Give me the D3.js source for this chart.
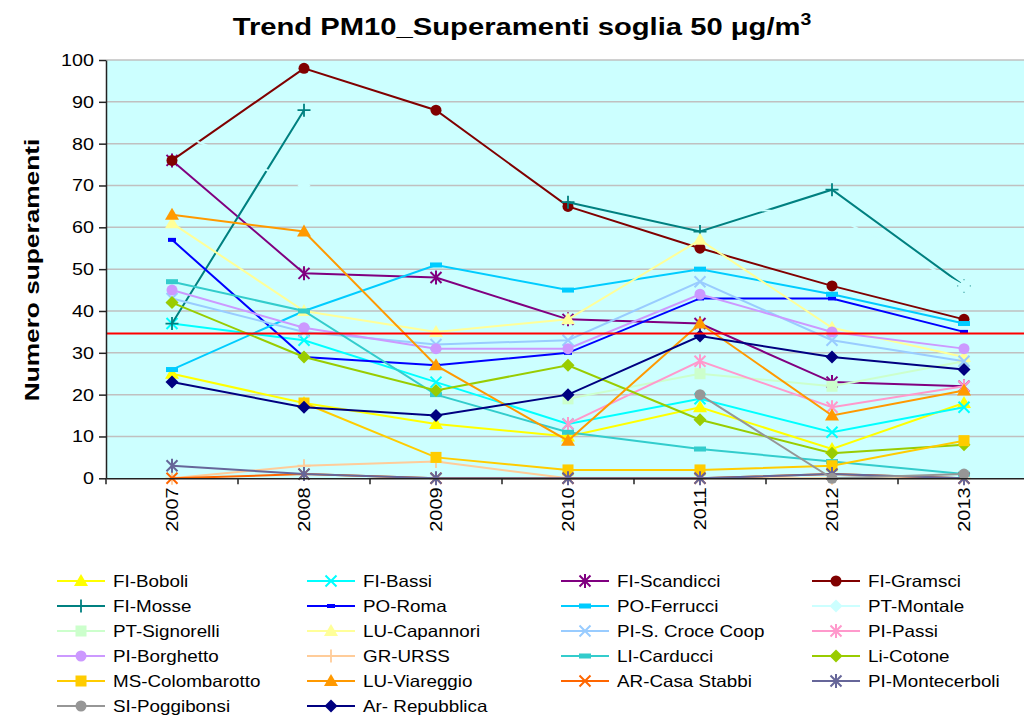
<!DOCTYPE html>
<html>
<head>
<meta charset="utf-8">
<script src="https://cdn.jsdelivr.net/npm/d3@7"></script>
<style>
  body { margin: 0; background: #fff; }
  text { font-family: "Liberation Sans", Arial, sans-serif; fill: #000; }
</style>
</head>
<body>
<svg id="chart" width="1024" height="718"></svg>
<script>
//////////////////////////////////////
// Data

const years = ['2007', '2008', '2009', '2010', '2011', '2012', '2013'];
const yTicks = [0, 10, 20, 30, 40, 50, 60, 70, 80, 90, 100];
const soglia = 34.6; // red limit line

const stations = ['FI-Boboli', 'FI-Bassi', 'FI-Scandicci', 'FI-Gramsci',
  'FI-Mosse', 'PO-Roma', 'PO-Ferrucci', 'PT-Montale',
  'PT-Signorelli', 'LU-Capannori', 'PI-S. Croce Coop', 'PI-Passi',
  'PI-Borghetto', 'GR-URSS', 'LI-Carducci', 'Li-Cotone',
  'MS-Colombarotto', 'LU-Viareggio', 'AR-Casa Stabbi', 'PI-Montecerboli',
  'SI-Poggibonsi', 'Ar- Repubblica'];

const boboli       = [25, 18, 13, 10, 17, 7, 18];
const bassi        = [37, 33, 23, 13, 19, 11, 17];
const scandicci    = [76, 49, 48, 38, 37, 23, 22];
const gramsci      = [76, 98, 88, 65, 55, 46, 38];
const mosse        = [37, 88, null, 66, 59, 69, 46];
const roma         = [57, 29, 27, 30, 43, 43, 35];
const ferrucci     = [26, 40, 51, 45, 50, 44, 37];
const montale      = [83, 70, null, null, 65, 63, 46];
const signorelli   = [null, null, null, 19, 25, 22, 28];
const capannori    = [61, 40, 35, 38, 57, 36, 29];
const santaCroce   = [43, 35, 32, 33, 47, 33, 28];
const passi        = [null, null, null, 13, 28, 17, 22];
const borghetto    = [45, 36, 31, 31, 44, 35, 31];
const urss         = [0, 3, 4, 0, 0, 0, 0];
const carducci     = [47, 40, 20, 11, 7, 4, 1];
const cotone       = [42, 29, 21, 27, 14, 6, 8];
const colombarotto = [null, 18, 5, 2, 2, 3, 9];
const viareggio    = [63, 59, 27, 9, 37, 15, 21];
const casaStabbi   = [0, 1, 0, 0, 0, 1, 0];
const montecerboli = [3, 1, 0, 0, 0, 1, 0];
const poggibonsi   = [null, null, null, null, 20, 0, 1];
const repubblica   = [23, 17, 15, 20, 34, 29, 26];

const seriesValues = [boboli, bassi, scandicci, gramsci, mosse, roma, ferrucci, montale,
  signorelli, capannori, santaCroce, passi, borghetto, urss, carducci, cotone,
  colombarotto, viareggio, casaStabbi, montecerboli, poggibonsi, repubblica];

// styles
const seriesColors = ['#ffff00', '#00ffff', '#800080', '#800000',
  '#008080', '#0000ff', '#00ccff', '#ccffff',
  '#ccffcc', '#ffff99', '#99ccff', '#ff99cc',
  '#cc99ff', '#ffcc99', '#33cccc', '#99cc00',
  '#ffcc00', '#ff9900', '#ff6600', '#666699',
  '#969696', '#000080'];
const seriesMarkers = ['triangle', 'x', 'star', 'circle',
  'plus', 'dashS', 'dash', 'diamond',
  'square', 'triangle', 'x', 'star',
  'circle', 'plus', 'dash', 'diamond',
  'square', 'triangle', 'x', 'star',
  'circle', 'diamond'];

//////////////////////////////////////
// Layout

const plot = {left: 106, right: 1030, top: 60, bottom: 478.3};

const svg = d3.select('#chart');

const x = d3.scaleBand().domain(years).range([plot.left, plot.right]);
const cx = d => x(d) + x.bandwidth() / 2;
const y = d3.scaleLinear().domain([0, 100]).range([plot.bottom, plot.top]);

// stretch text a bit, the original font renders wider than Arial
function stretch(sel, k) {
  sel.each(function() {
    const w = this.getComputedTextLength();
    this.setAttribute('textLength', w * k);
    this.setAttribute('lengthAdjust', 'spacingAndGlyphs');
  });
}

// plot background
svg.append('rect')
  .attr('x', plot.left).attr('y', plot.top)
  .attr('width', plot.right - plot.left).attr('height', plot.bottom - plot.top)
  .attr('fill', '#ccffff');

// gridlines
svg.append('g')
  .selectAll('line')
  .data(yTicks.slice(1))
  .join('line')
  .attr('x1', plot.left).attr('x2', plot.right)
  .attr('y1', d => y(d)).attr('y2', d => y(d))
  .attr('stroke', '#c0c0c0').attr('stroke-width', 1.5);

//////////////////////////////////////
// Markers

function drawMarker(g, shape, color, px, py) {
  const t = 'translate(' + px + ',' + py + ')';
  switch (shape) {
    case 'triangle':
      g.append('path').attr('d', 'M0,-7L7,5L-7,5Z').attr('transform', t).attr('fill', color);
      break;
    case 'circle':
      g.append('circle').attr('cx', px).attr('cy', py).attr('r', 5.5).attr('fill', color);
      break;
    case 'diamond':
      g.append('path').attr('d', 'M0,-6.5L6.5,0L0,6.5L-6.5,0Z').attr('transform', t).attr('fill', color);
      break;
    case 'square':
      g.append('rect').attr('x', px - 5.5).attr('y', py - 5.5).attr('width', 11).attr('height', 11).attr('fill', color);
      break;
    case 'dash':
      g.append('rect').attr('x', px - 6).attr('y', py - 2.5).attr('width', 12).attr('height', 5).attr('fill', color);
      break;
    case 'dashS':
      g.append('rect').attr('x', px - 4).attr('y', py - 2).attr('width', 8).attr('height', 4).attr('fill', color);
      break;
    case 'x':
      g.append('path').attr('d', 'M-5.5,-5.5L5.5,5.5M-5.5,5.5L5.5,-5.5').attr('transform', t)
        .attr('stroke', color).attr('stroke-width', 2).attr('fill', 'none');
      break;
    case 'star':
      g.append('path').attr('d', 'M-5.5,-5.5L5.5,5.5M-5.5,5.5L5.5,-5.5M0,-7V7').attr('transform', t)
        .attr('stroke', color).attr('stroke-width', 2).attr('fill', 'none');
      break;
    case 'plus':
      g.append('path').attr('d', 'M-6.5,0H6.5M0,-6.5V6.5').attr('transform', t)
        .attr('stroke', color).attr('stroke-width', 1.8).attr('fill', 'none');
      break;
  }
}

//////////////////////////////////////
// Series

const line = d3.line()
  .defined(d => d[1] != null)
  .x(d => cx(d[0]))
  .y(d => y(d[1]));

const seriesG = svg.append('g');
seriesValues.forEach(function(vals, i) {
  const pts = years.map((yr, j) => [yr, vals[j]]);
  const g = seriesG.append('g');
  g.append('path')
    .datum(pts)
    .attr('d', line)
    .attr('fill', 'none')
    .attr('stroke', seriesColors[i])
    .attr('stroke-width', 2);
  pts.filter(d => d[1] != null).forEach(function(d) {
    drawMarker(g, seriesMarkers[i], seriesColors[i], cx(d[0]), y(d[1]));
  });
});

// limit line
svg.append('line')
  .attr('x1', plot.left).attr('x2', plot.right)
  .attr('y1', y(soglia)).attr('y2', y(soglia))
  .attr('stroke', '#ff0000').attr('stroke-width', 2);

//////////////////////////////////////
// Axes

const yAxis = svg.append('g')
  .attr('transform', 'translate(' + plot.left + ',0)')
  .call(d3.axisLeft(y).tickValues(yTicks).tickSize(7).tickPadding(5).tickSizeOuter(0));
yAxis.select('.domain').attr('stroke', '#222').attr('stroke-width', 1.5);
yAxis.selectAll('.tick line').attr('stroke', '#222').attr('stroke-width', 1.5);
yAxis.selectAll('text').style('font-size', '17px').attr('font-family', null);
stretch(yAxis.selectAll('text'), 1.16);

const xAxis = svg.append('g')
  .attr('transform', 'translate(0,' + plot.bottom + ')')
  .call(d3.axisBottom(x).tickSize(0).tickSizeOuter(0));
xAxis.select('.domain').attr('stroke', '#222').attr('stroke-width', 1.5);
xAxis.selectAll('.tick text')
  .attr('transform', 'rotate(-90)')
  .attr('text-anchor', 'end')
  .attr('x', -9).attr('y', 0).attr('dy', '0.35em')
  .style('font-size', '16px');
stretch(xAxis.selectAll('.tick text'), 1.25);

// category separators
svg.append('g')
  .selectAll('line')
  .data(years.map(d => x(d)).concat([x.range()[1]]))
  .join('line')
  .attr('x1', d => d).attr('x2', d => d)
  .attr('y1', plot.bottom).attr('y2', plot.bottom + 6)
  .attr('stroke', '#222').attr('stroke-width', 1.5);

//////////////////////////////////////
// Titles

const title = svg.append('text')
  .attr('text-anchor', 'middle')
  .style('font-size', '24px').style('font-weight', 'bold');
title.append('tspan').text('Trend PM10_Superamenti soglia 50 \u03bcg/m');
title.append('tspan').attr('dy', -10).style('font-size', '16px').text('3');
const titleW = title.node().getBBox().width;
title.attr('transform', 'translate(522,35) scale(' + (579 / titleW) + ',1)');

const yTitle = svg.append('text')
  .attr('transform', 'translate(39,270) rotate(-90)')
  .attr('text-anchor', 'middle')
  .style('font-size', '21px').style('font-weight', 'bold')
  .text('Numero superamenti');
stretch(yTitle, 1.25);

//////////////////////////////////////
// Legend

const legendCols = [57, 307, 561, 812];
const legendTop = 581, legendStep = 25;
const legend = svg.append('g');
stations.forEach(function(name, i) {
  const lx = legendCols[i % 4];
  const ly = legendTop + Math.floor(i / 4) * legendStep;
  const g = legend.append('g');
  g.append('line')
    .attr('x1', lx).attr('x2', lx + 48)
    .attr('y1', ly).attr('y2', ly)
    .attr('stroke', seriesColors[i]).attr('stroke-width', 2);
  drawMarker(g, seriesMarkers[i], seriesColors[i], lx + 24, ly);
  const t = g.append('text')
    .attr('x', lx + 56).attr('y', ly + 6)
    .style('font-size', '16.5px')
    .text(name);
  stretch(t, 1.14);
});
</script>
</body>
</html>
